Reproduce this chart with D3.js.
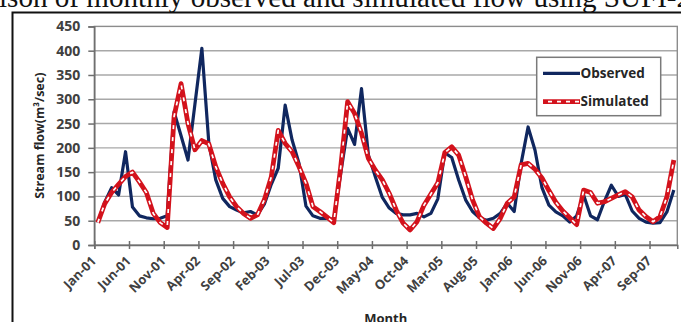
<!DOCTYPE html>
<html>
<head>
<meta charset="utf-8">
<script src="https://cdn.jsdelivr.net/npm/d3@7"></script>
<style>
  html, body { margin: 0; padding: 0; background: #fff; overflow: hidden; }
  svg { display: block; }
</style>
</head>
<body>
<svg id="chart" width="681" height="322"></svg>
<script>
// Monthly stream flow, Jan-2001 .. Dec-2007 (84 months)
const observed = [
  46, 88, 118, 103, 192, 78, 60, 56, 54, 55, 60, 274,
  225, 175, 290, 405, 210, 134, 96, 79, 72, 66, 69, 62,
  84, 125, 158, 288, 216, 168, 80, 60, 55, 55, 53, 147,
  240, 207, 322, 185, 140, 98, 76, 65, 62, 62, 65, 58,
  65, 95, 190, 180, 134, 93, 69, 56, 51, 55, 65, 86,
  69, 168, 243, 195, 118, 82, 68, 60, 47, 60, 103, 60,
  52, 90, 123, 100, 104, 70, 55, 47, 45, 46, 68, 113
];
const simulated = [
  46, 85, 108, 125, 141, 150, 130, 108, 65, 46, 36, 265,
  332, 250, 196, 215, 208, 161, 127, 99, 79, 65, 55, 62,
  93, 140, 236, 209, 192, 161, 127, 79, 69, 58, 46, 160,
  295, 271, 230, 178, 154, 134, 106, 72, 45, 31, 48, 82,
  105, 128, 190, 202, 185, 141, 93, 58, 45, 34, 55, 86,
  99, 165, 168, 156, 138, 112, 88, 70, 56, 42, 113, 108,
  86, 89, 96, 103, 110, 99, 72, 58, 48, 58, 99, 175
];
const tickLabels = [
  "Jan-01", "Jun-01", "Nov-01", "Apr-02", "Sep-02", "Feb-03", "Jul-03", "Dec-03",
  "May-04", "Oct-04", "Mar-05", "Aug-05", "Jan-06", "Jun-06", "Nov-06", "Apr-07", "Sep-07"
];
const yTicks = [0, 50, 100, 150, 200, 250, 300, 350, 400, 450];
const seriesNames = ["Observed", "Simulated"];
const titleText = "Comparison of monthly observed and simulated flow using SUFI-2";

const svg = d3.select("#chart");
const W = 681, H = 322;
const plot = { left: 94.3, right: 677.3, top: 26.4, bottom: 245 };

const x = d3.scaleLinear().domain([0, observed.length]).range([plot.left, plot.right]);
const y = d3.scaleLinear().domain([0, 450]).range([plot.bottom, plot.top]);

const labelFont = "'Open Sans', 'Liberation Sans', sans-serif";
const navy = "#10275f";
const red = "#d3121c";

// Heading (runs off the top of the canvas)
const title = svg.append("text")
  .attr("font-family", "'Liberation Serif', 'DejaVu Serif', serif")
  .attr("font-size", 25)
  .attr("fill", "#111")
  .attr("y", 7)
  .text(titleText);
{
  const node = title.node();
  const startIdx = titleText.indexOf("ison");
  const endIdx = titleText.indexOf("SUFI") + 4;
  const visibleW = node.getSubStringLength(startIdx, endIdx - startIdx);
  const fs = 25 * 668 / visibleW;
  title.attr("font-size", fs);
  const offset = node.getSubStringLength(0, startIdx);
  title.attr("x", -offset - 1);
}

// Outer chart frame
svg.append("rect")
  .attr("x", 12.5).attr("y", 12.5)
  .attr("width", W + 20).attr("height", H + 20)
  .attr("fill", "none").attr("stroke", "#111").attr("stroke-width", 2);

// Horizontal gridlines
svg.append("g").selectAll("line")
  .data(yTicks.filter(v => v > 0 && v < 450))
  .join("line")
  .attr("x1", plot.left).attr("x2", plot.right)
  .attr("y1", d => y(d)).attr("y2", d => y(d))
  .attr("stroke", "#a8a8a8").attr("stroke-width", 1.4);

// Plot area border
svg.append("rect")
  .attr("x", plot.left).attr("y", plot.top)
  .attr("width", plot.right - plot.left).attr("height", plot.bottom - plot.top)
  .attr("fill", "none").attr("stroke", "#8c8c8c").attr("stroke-width", 1.4);

// Y axis
const yAxis = svg.append("g")
  .attr("transform", `translate(${plot.left},0)`)
  .call(d3.axisLeft(y).tickValues(yTicks).tickSize(6).tickPadding(8));
yAxis.select(".domain").attr("stroke", "#6e6e6e").attr("stroke-width", 1.5);
yAxis.selectAll(".tick line").attr("stroke", "#6e6e6e").attr("stroke-width", 1.5);
yAxis.selectAll(".tick text")
  .attr("font-family", labelFont).attr("font-weight", "bold")
  .attr("font-size", 14).attr("fill", "#404040");

// X axis: ticks every five months, at category boundaries
const tickIdx = tickLabels.map((_, k) => k * 5);
const xAxis = svg.append("g")
  .attr("transform", `translate(0,${plot.bottom})`)
  .call(d3.axisBottom(x).tickValues(tickIdx).tickSize(4).tickFormat(() => ""));
xAxis.select(".domain").attr("stroke", "#6e6e6e").attr("stroke-width", 1.5);
xAxis.selectAll(".tick line").attr("y1", -4).attr("y2", 4)
  .attr("stroke", "#6e6e6e").attr("stroke-width", 1.5);

svg.append("g").selectAll("text")
  .data(tickLabels)
  .join("text")
  .attr("transform", (d, k) => `translate(${x(k * 5 + 0.5) - 4},${plot.bottom + 13.5}) rotate(-45)`)
  .attr("dy", "0.35em")
  .attr("text-anchor", "end")
  .attr("font-family", labelFont).attr("font-weight", "bold")
  .attr("font-size", 13).attr("fill", "#404040")
  .text(d => d);

// Axis titles
svg.append("text")
  .attr("transform", `translate(44,${(plot.top + plot.bottom) / 2}) rotate(-90)`)
  .attr("text-anchor", "middle")
  .attr("font-family", labelFont).attr("font-weight", "bold")
  .attr("font-size", 12.5).attr("fill", "#262626")
  .text("Stream flow(m³/sec)");

svg.append("text")
  .attr("x", (plot.left + plot.right) / 2).attr("y", 323)
  .attr("text-anchor", "middle")
  .attr("font-family", labelFont).attr("font-weight", "bold")
  .attr("font-size", 13).attr("fill", "#262626")
  .text("Month");

// Series lines (straight segments between monthly points)
const line = d3.line()
  .x((d, i) => x(i + 0.5))
  .y(d => y(d));

svg.append("path").datum(observed)
  .attr("d", line).attr("fill", "none")
  .attr("stroke", navy).attr("stroke-width", 3.2)
  .attr("stroke-linejoin", "round");

svg.append("path").datum(simulated)
  .attr("d", line).attr("fill", "none")
  .attr("stroke", red).attr("stroke-width", 4.8)
  .attr("stroke-linejoin", "round");
svg.append("path").datum(simulated)
  .attr("d", line).attr("fill", "none")
  .attr("stroke", "#fff").attr("stroke-width", 1.7)
  .attr("stroke-linejoin", "round")
  .attr("stroke-dasharray", "4,8");

// Legend
const lg = svg.append("g");
lg.append("rect")
  .attr("x", 536.7).attr("y", 57.3).attr("width", 124).attr("height", 58.4)
  .attr("fill", "#fff").attr("stroke", "#7a7a7a").attr("stroke-width", 1.5);
const legendRows = [73.3, 101.7];
seriesNames.forEach((name, k) => {
  const ly = legendRows[k];
  if (k === 0) {
    lg.append("line").attr("x1", 543).attr("x2", 580).attr("y1", ly).attr("y2", ly)
      .attr("stroke", navy).attr("stroke-width", 3.2);
  } else {
    lg.append("line").attr("x1", 543).attr("x2", 580).attr("y1", ly).attr("y2", ly)
      .attr("stroke", red).attr("stroke-width", 4.8);
    lg.append("line").attr("x1", 543).attr("x2", 580).attr("y1", ly).attr("y2", ly)
      .attr("stroke", "#fff").attr("stroke-width", 1.7).attr("stroke-dasharray", "4,5")
      .attr("stroke-dashoffset", -5);
  }
  lg.append("text")
    .attr("x", 580.5).attr("y", ly).attr("dy", "0.35em")
    .attr("font-family", labelFont).attr("font-weight", "bold")
    .attr("font-size", 13.5).attr("fill", "#262626")
    .text(name);
});
</script>
</body>
</html>
